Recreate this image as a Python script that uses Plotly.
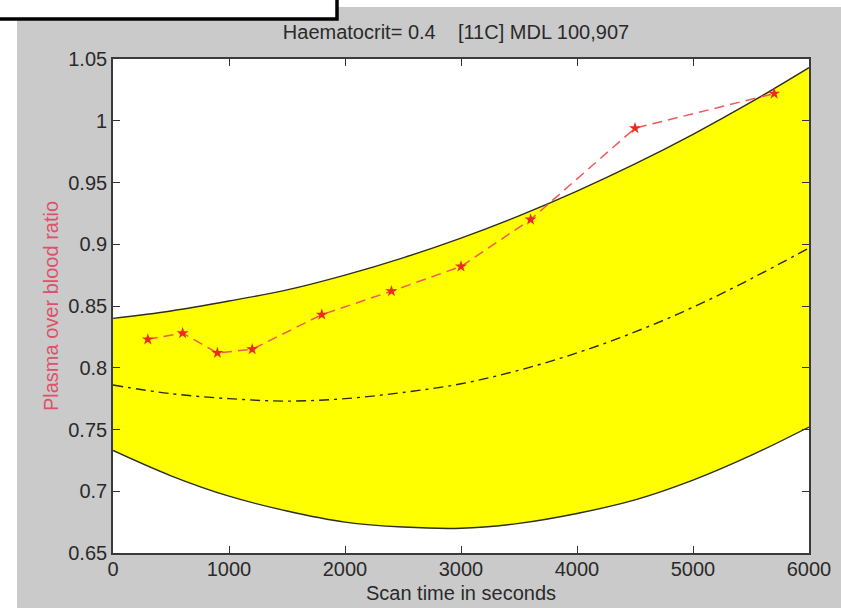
import plotly.graph_objects as go

# ---- data ----
curve_t = [0, 500, 1000, 1500, 2000, 2500, 3000, 3500, 4000, 4500, 5000, 5500, 6000]
upper = [0.840, 0.846, 0.854, 0.863, 0.875, 0.889, 0.905, 0.923, 0.943, 0.965, 0.989, 1.015, 1.043]
lower = [0.733, 0.7125, 0.696, 0.684, 0.675, 0.671, 0.670, 0.674, 0.682, 0.693, 0.709, 0.729, 0.752]
middle = [0.786, 0.779, 0.775, 0.773, 0.775, 0.780, 0.787, 0.798, 0.812, 0.829, 0.849, 0.872, 0.897]

scan_t = [300, 600, 900, 1200, 1800, 2400, 3000, 3600, 4500, 5700]
ratio = [0.823, 0.828, 0.812, 0.815, 0.843, 0.862, 0.882, 0.920, 0.994, 1.022]

x_ticks = [0, 1000, 2000, 3000, 4000, 5000, 6000]
x_labels = ["0", "1000", "2000", "3000", "4000", "5000", "6000"]
y_ticks = [0.65, 0.7, 0.75, 0.8, 0.85, 0.9, 0.95, 1.0, 1.05]
y_labels = ["0.65", "0.7", "0.75", "0.8", "0.85", "0.9", "0.95", "1", "1.05"]

title_text = "Haematocrit= 0.4\u00a0\u00a0\u00a0\u00a0[11C] MDL 100,907"
x_title = "Scan time in seconds"
y_title = "Plasma over blood ratio"

# ---- layout geometry (pixels) ----
W, H = 841, 608
L, R, T, B = 113, 32, 59, 55
PW, PH = W - L - R, H - T - B


def px_x(p):
    return (p - L) / PW


def px_y(p):
    return (H - B - p) / PH


FONT = "Liberation Sans, Arial, Helvetica, sans-serif"
edge = "#2e2e22"

fig = go.Figure()
fig.add_trace(go.Scatter(x=curve_t, y=lower, mode="lines",
                         line=dict(color=edge, width=1.4, shape="spline"),
                         hoverinfo="skip", showlegend=False))
fig.add_trace(go.Scatter(x=curve_t, y=upper, mode="lines", fill="tonexty",
                         fillcolor="#ffff00",
                         line=dict(color=edge, width=1.4, shape="spline"),
                         hoverinfo="skip", showlegend=False))
fig.add_trace(go.Scatter(x=curve_t, y=middle, mode="lines",
                         line=dict(color="#2a2a10", width=1.4, shape="spline",
                                   dash="10px,5px,3px,5px"),
                         showlegend=False))
fig.add_trace(go.Scatter(x=scan_t, y=ratio, mode="lines+markers",
                         line=dict(color="#f05a5a", width=1.5, dash="10px,6px"),
                         marker=dict(symbol="star", size=9, color="#ee2a1a",
                                     line=dict(width=0)),
                         showlegend=False))

shapes = [
    # white strips around the grey figure
    dict(type="rect", xref="paper", yref="paper",
         x0=px_x(-5), x1=px_x(17), y0=px_y(H + 5), y1=px_y(-5),
         fillcolor="white", line=dict(width=0), layer="above"),
    dict(type="rect", xref="paper", yref="paper",
         x0=px_x(-5), x1=px_x(W + 5), y0=px_y(7), y1=px_y(-5),
         fillcolor="white", line=dict(width=0), layer="above"),
    # white boxed panel at top-left
    dict(type="rect", xref="paper", yref="paper",
         x0=px_x(-10), x1=px_x(337), y0=px_y(19), y1=px_y(-10),
         fillcolor="white", line=dict(color="black", width=3.5), layer="above"),
]

fig.update_layout(
    width=W, height=H,
    margin=dict(l=L, r=R, t=T, b=B, pad=0, autoexpand=False),
    paper_bgcolor="#cacaca",
    plot_bgcolor="white",
    font=dict(family=FONT, size=20, color="#2a2a2a"),
    title=dict(text=title_text, x=456 / W, xanchor="center",
               y=1 - 32 / H, yanchor="middle", yref="container",
               font=dict(size=20, color="#2a2a2a")),
    shapes=shapes,
    showlegend=False,
)

fig.update_xaxes(range=[0, 6000], tickvals=x_ticks, ticktext=x_labels,
                 ticks="inside", ticklen=7, tickwidth=1.3, tickcolor="#333",
                 showline=True, linecolor="#3a3a3a", linewidth=1.6,
                 mirror="ticks", showgrid=False, zeroline=False,
                 automargin=False, ticklabelstandoff=-3,
                 tickfont=dict(size=20, color="#2a2a2a"),
                 title=dict(text=x_title, standoff=7,
                            font=dict(size=20, color="#2a2a2a")))
fig.update_yaxes(range=[0.65, 1.05], tickvals=y_ticks, ticktext=y_labels,
                 ticks="inside", ticklen=7, tickwidth=1.3, tickcolor="#333",
                 showline=True, linecolor="#3a3a3a", linewidth=1.6,
                 mirror="ticks", showgrid=False, zeroline=False,
                 automargin=False,
                 tickfont=dict(size=20, color="#2a2a2a"),
                 title=dict(text=y_title, standoff=4,
                            font=dict(size=20, color="#e0506a")))

fig.write_html("out.html",
               config={"displayModeBar": False},
               post_script="document.body.style.margin='0';document.body.style.padding='0';")
